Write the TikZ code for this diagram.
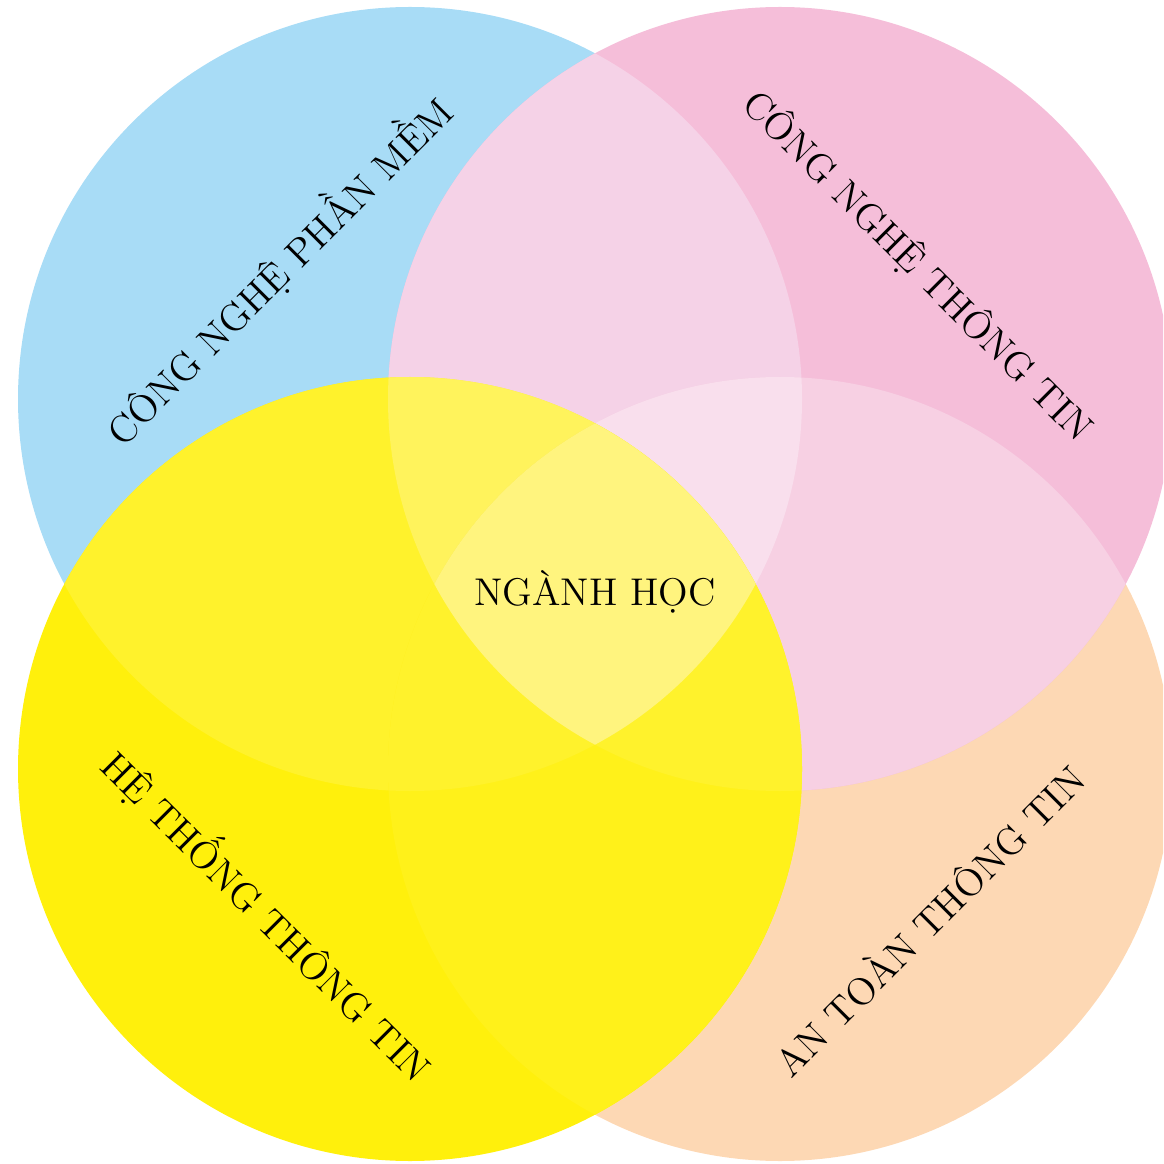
\documentclass[tikz,border=0pt]{standalone}
\usepackage{fontspec}
\usetikzlibrary{calc}

\definecolor{xanhcnpm}{HTML}{A8DCF6}
\definecolor{hongcntt}{HTML}{F5BED9}
\definecolor{vanghttt}{HTML}{FFF00C}
\definecolor{camattt}{HTML}{FDD8B4}
\definecolor{hongnhat}{HTML}{F5D2E7}
\definecolor{hongnhat2}{HTML}{F7D0E3}
\definecolor{hongtrang}{HTML}{F9DFED}
\definecolor{vangnhat}{HTML}{FFF22C}
\definecolor{vangnhat2}{HTML}{FFF11A}
\definecolor{vangsang}{HTML}{FFF35C}
\definecolor{vangtrang}{HTML}{FFF47E}

\tikzset{
    nganh/.style={font=\fontsize{11}{13}\selectfont, text=black, inner sep=0pt}
}

\begin{document}
\begin{tikzpicture}

            \def\vr{3.92}
            \useasboundingbox (0,0) rectangle (11.63,-11.64);
            \clip (0,0) rectangle (11.63,-11.64);

            \coordinate (cnpm) at (4.10,-3.99);
            \coordinate (cntt) at (7.80,-3.99);
            \coordinate (httt) at (4.10,-7.69);
            \coordinate (attt) at (7.80,-7.69);

            \fill [xanhcnpm] (cnpm) circle (\vr);
            \fill [camattt] (attt) circle (\vr);
            \fill [hongcntt] (cntt) circle (\vr);
            \fill [vanghttt] (httt) circle (\vr);

            \begin{scope}
                \clip (cnpm) circle (\vr);
                \fill [hongnhat] (cntt) circle (\vr);
            \end{scope}
            \begin{scope}
                \clip (cntt) circle (\vr);
                \fill [hongnhat2] (attt) circle (\vr);
            \end{scope}
            \begin{scope}
                \clip (cnpm) circle (\vr);
                \fill [vangnhat] (httt) circle (\vr);
            \end{scope}
            \begin{scope}
                \clip (httt) circle (\vr);
                \fill [vangnhat2] (attt) circle (\vr);
            \end{scope}

            \begin{scope}
                \clip (cnpm) circle (\vr);
                \clip (cntt) circle (\vr);
                \fill [vangsang] (httt) circle (\vr);
            \end{scope}
            \begin{scope}
                \clip (cnpm) circle (\vr);
                \clip (cntt) circle (\vr);
                \fill [hongtrang] (attt) circle (\vr);
            \end{scope}
            \begin{scope}
                \clip (httt) circle (\vr);
                \clip (attt) circle (\vr);
                \fill [vangnhat] (cnpm) circle (\vr);
                \fill [vangnhat] (cntt) circle (\vr);
            \end{scope}

            \begin{scope}
                \clip (cnpm) circle (\vr);
                \clip (cntt) circle (\vr);
                \clip (httt) circle (\vr);
                \fill [vangtrang] (attt) circle (\vr);
            \end{scope}

            \node (tcnpm) [nganh, rotate=45] at (2.78,-2.70) {CÔNG NGHỆ PHẦN MỀM};
            \node (tcntt) [nganh, rotate=-45] at (9.18,-2.66) {CÔNG NGHỆ THÔNG TIN};
            \node (thttt) [nganh, rotate=-45] at (2.68,-9.15) {HỆ THỐNG THÔNG TIN};
            \node (tattt) [nganh, rotate=45] at (9.28,-9.19) {AN TOÀN THÔNG TIN};
            \node (tnganh) [nganh, anchor=base] at (5.95,-6.05) {NGÀNH HỌC};

        \end{tikzpicture}
\end{document}
